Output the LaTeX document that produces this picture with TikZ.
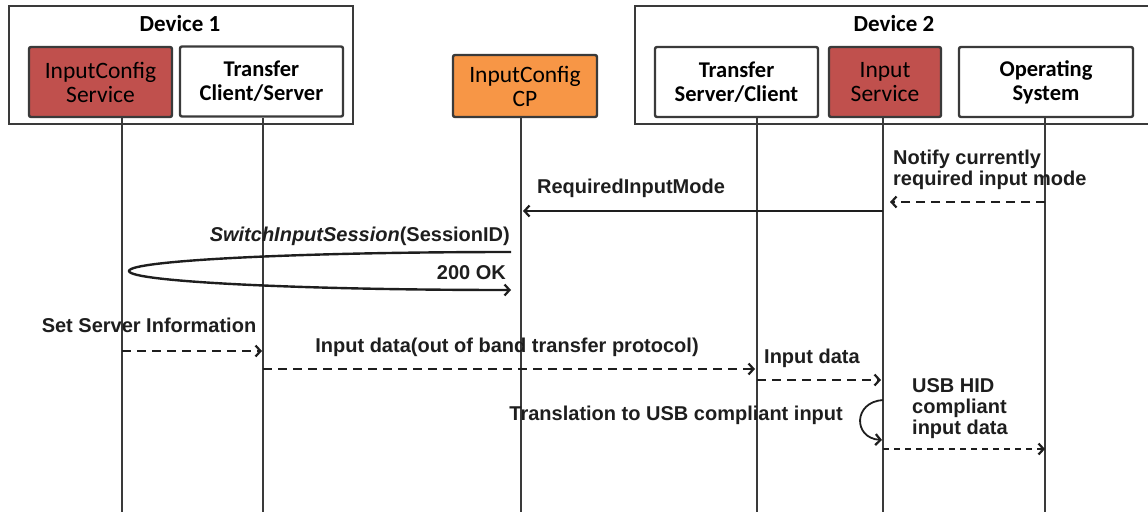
\documentclass[tikz,border=0pt]{standalone}
\usepackage{fontspec}
\setmainfont{Liberation Sans}
\newfontfamily\boxfont{Carlito}
\usetikzlibrary{arrows.meta,calc}
\definecolor{redbox}{HTML}{C0504D}
\definecolor{orangebox}{HTML}{F79646}
\definecolor{edge}{HTML}{3A3A3A}
\definecolor{ink}{HTML}{1E1E1E}

\begin{document}
\begin{tikzpicture}[x=1pt,y=-1pt,
  actor/.style={draw=edge, line width=2.4pt, rounded corners=2pt, inner sep=0pt,
    align=center, font=\boxfont\fontsize{23.5}{24}\selectfont},
  plain/.style={actor, font=\boxfont\bfseries\fontsize{22.5}{24}\selectfont},
  frame/.style={draw=edge, line width=2.4pt},
  devtitle/.style={font=\boxfont\bfseries\fontsize{23}{24}\selectfont, inner sep=0pt},
  life/.style={draw=edge, line width=2.4pt},
  msg/.style={draw=ink, line width=2.4pt,
    -{Straight Barb[length=5pt,width=11pt,line width=2.2pt]}},
  async/.style={msg, line width=2.8pt, dash pattern=on 9pt off 6pt},
  lbl/.style={font=\bfseries\fontsize{20}{21}\selectfont, inner sep=0pt, align=left, text=ink},
]
\useasboundingbox (0,0) rectangle (1148,512);

% device frames
\node[frame, minimum width=344pt, minimum height=118pt, inner sep=0pt] (dev1) at (181,65) {};
\node[devtitle] (dev1t) at (180,24) {Device 1};
\coordinate (d2tr) at (1162,6);
\coordinate (d2tl) at (635,6);
\coordinate (d2bl) at (635,124);
\coordinate (d2br) at (1162,124);
\draw[frame] (d2tr) -- (d2tl) -- (d2bl) -- (d2br);
\node[devtitle] (dev2t) at (894,24) {Device 2};

% participants
\node[actor, fill=redbox, minimum width=143pt, minimum height=70pt] (ics) at (100.5,82) {InputConfig\\Service};
\node[plain, fill=white, minimum width=163pt, minimum height=70pt] (tcs) at (261.5,81.5) {Transfer\\Client/Server};
\node[actor, fill=orangebox, minimum width=144pt, minimum height=62pt] (cp) at (525,86) {InputConfig\\CP};
\node[plain, fill=white, minimum width=163pt, minimum height=70pt] (tsc) at (736.5,82) {Transfer\\Server/Client};
\node[actor, fill=redbox, minimum width=112pt, minimum height=70pt] (is) at (885,82) {Input\\Service};
\node[plain, fill=white, minimum width=174pt, minimum height=70pt] (os) at (1046,82) {Operating\\System};

% lifelines
\coordinate (l1) at (122,118);
\coordinate (l2) at (263,118);
\coordinate (l3) at (521,118);
\coordinate (l4) at (757,118);
\coordinate (l5) at (883,118);
\coordinate (l6) at (1045,118);
\foreach \l in {l1,l2,l3,l4,l5,l6}
  \draw[life] (\l) -- (\l |- 0,512);

% notify required input mode
\coordinate (a1s) at (1045,202);
\coordinate (a1e) at (890,202);
\draw[async] (a1s) -- (a1e);
\node[lbl, anchor=west] (t1) at (893,170) {Notify currently\\required input mode};

% RequiredInputMode
\coordinate (a2s) at (883,211);
\coordinate (a2e) at (523,211);
\draw[msg] (a2s) -- (a2e);
\node[lbl] (t2) at (631,188) {RequiredInputMode};

% SwitchInputSession round trip
\coordinate (a3s) at (511,252);
\coordinate (a3m) at (129,271);
\coordinate (a3e) at (511,290);
\draw[msg] (a3s) .. controls (300,252) and (129,260.5) .. (a3m)
                 .. controls (129,281.5) and (300,290) .. (a3e);
\node[lbl, anchor=east] (t3) at (510,236) {\itshape SwitchInputSession\upshape(SessionID)};
\node[lbl, anchor=east] (t4) at (506,273) {200 OK};

% set server information
\coordinate (a4s) at (122,351);
\coordinate (a4e) at (262,351);
\draw[async] (a4s) -- (a4e);
\node[lbl] (t5) at (149,325) {Set Server Information};

% out of band transfer
\coordinate (a5s) at (263,369);
\coordinate (a5e) at (755,369);
\draw[async] (a5s) -- (a5e);
\node[lbl] (t6) at (507,347) {Input data(out of band transfer protocol)};

% input data to input service
\coordinate (a6s) at (757,380);
\coordinate (a6e) at (881,380);
\draw[async] (a6s) -- (a6e);
\node[lbl, anchor=west] (t7) at (764,358) {Input data};

% translation self call
\coordinate (a7s) at (883,400);
\coordinate (a7e) at (882,440);
\draw[msg, line width=1.8pt] (a7s) .. controls (853,402) and (853,438) .. (a7e);
\node[lbl, anchor=east] (t8) at (843,415) {Translation to USB compliant input};

% USB HID data to operating system
\coordinate (a8s) at (883,449);
\coordinate (a8e) at (1045,449);
\draw[async, dash pattern=on 6pt off 5pt] (a8s) -- (a8e);
\node[lbl, anchor=west] (t9) at (912,409) {USB HID\\compliant\\input data};
\end{tikzpicture}
\end{document}
